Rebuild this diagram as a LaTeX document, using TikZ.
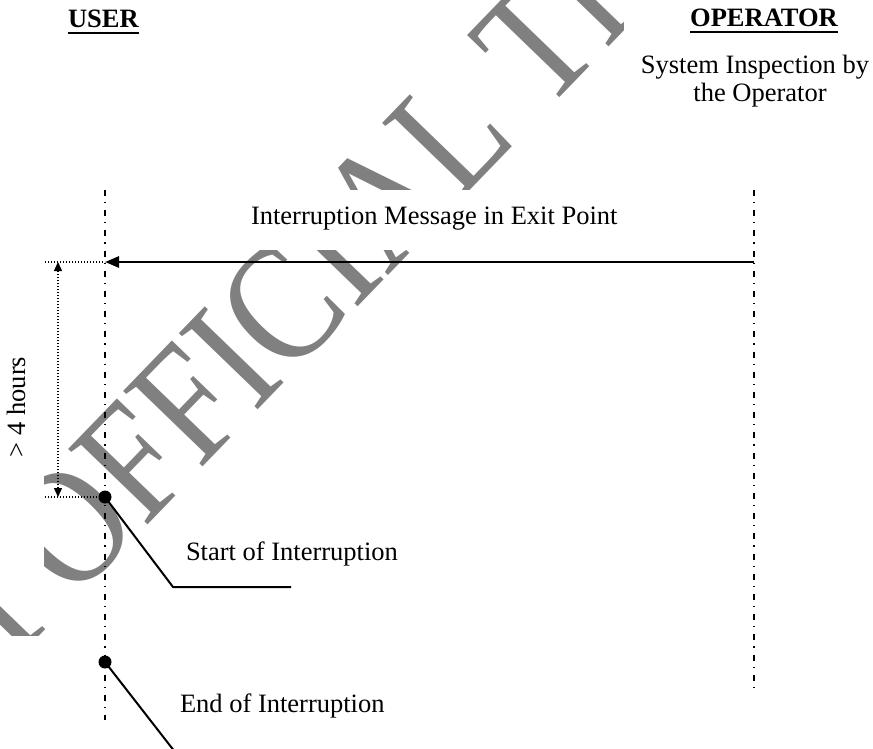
\documentclass[tikz,border=0pt]{standalone}
\usepackage{fontspec}
\setmainfont{Liberation Serif}
\usetikzlibrary{arrows.meta}
\begin{document}
\begin{tikzpicture}[x=1pt,y=-1pt,
  every node/.style={inner sep=0pt, outer sep=0pt, font=\fontsize{26.5}{28}\selectfont},
  head/.style={font=\fontsize{26.5}{28}\selectfont\bfseries},
  uline/.style={line width=2pt},
  lifeline/.style={line width=1.3pt, dash pattern=on 6pt off 6pt on 1.2pt off 7pt},
  msg/.style={line width=2.6pt, -{Triangle[length=14pt,width=11pt]}},
  dimline/.style={line width=1.4pt, dash pattern=on 1.4pt off 1.6pt,
    {Triangle[length=9pt,width=8pt]}-{Triangle[length=9pt,width=8pt]}},
  extline/.style={line width=1.2pt, dash pattern=on 1.2pt off 1.8pt},
  leader/.style={line width=2pt},
  dot/.style={circle, fill=black, minimum size=13pt},
  wm/.style={text=black!50, font=\fontsize{143}{143}\selectfont, transform shape}
]
\useasboundingbox (0,0) rectangle (873,749);

% watermark, partly hidden behind the label boxes
\begin{scope}[shift={(72.5,602.4)}, rotate=46, yscale=1.17]
  \node[wm, anchor=base west] (wmb) at (0,0) {OFFICIAL TRANSLATION};
  \node[wm, anchor=base east] (wma) at (0,0) {NOT\rule{0.11em}{0pt}};
\end{scope}
\fill[white] (0,190) rectangle (873,250);
\fill[white] (624,0) rectangle (873,118);
\fill[white] (0,255) rectangle (44,603);
\fill[white] (0,636) rectangle (48,749);

% headings
\node[head, anchor=base west] (user) at (68,28) {USER};
\draw[uline] ([yshift=-5pt]user.base west) -- ([yshift=-5pt]user.base east);
\node[head, anchor=base] (oper) at (764,27) {OPERATOR};
\draw[uline] ([yshift=-5pt]oper.base west) -- ([yshift=-5pt]oper.base east);
\node[anchor=base] (sys1) at (755,74) {System Inspection by};
\node[anchor=base] (sys2) at (760,102) {the Operator};

% lifelines
\coordinate (uTop) at (105,190);
\coordinate (uBot) at (105,720);
\coordinate (oTop) at (754,190);
\coordinate (oBot) at (754,688);
\draw[lifeline] (uTop) -- (uBot);
\draw[lifeline] (oTop) -- (oBot);

% message
\node[anchor=base west] (mtxt) at (251,224) {Interruption Message in Exit Point};
\coordinate (oA) at (754,262);
\coordinate (uA) at (105,262);
\draw[msg] (oA) -- (uA);

% events on the user lifeline
\node[dot] (s) at (105,497) {};
\node[dot] (e) at (105,662) {};

% duration dimension
\coordinate (x1) at (45,262);
\coordinate (x2) at (45,497);
\coordinate (d1) at (58,262);
\coordinate (d2) at (58,497);
\draw[extline] (x1) -- (uA);
\draw[extline] (x2) -- (s.center);
\draw[dimline] (d2) -- (d1);
\node[rotate=90, anchor=base] (hrs) at (25,407) {> 4 hours};

% event labels
\coordinate (k1) at (173,587);
\coordinate (k2) at (291,587);
\coordinate (k3) at (175,752);
\draw[leader] (s.center) -- (k1) -- (k2);
\draw[leader] (e.center) -- (k3);
\node[anchor=base west] (stxt) at (186,560) {Start of Interruption};
\node[anchor=base west] (etxt) at (180,712) {End of Interruption};
\end{tikzpicture}
\end{document}
